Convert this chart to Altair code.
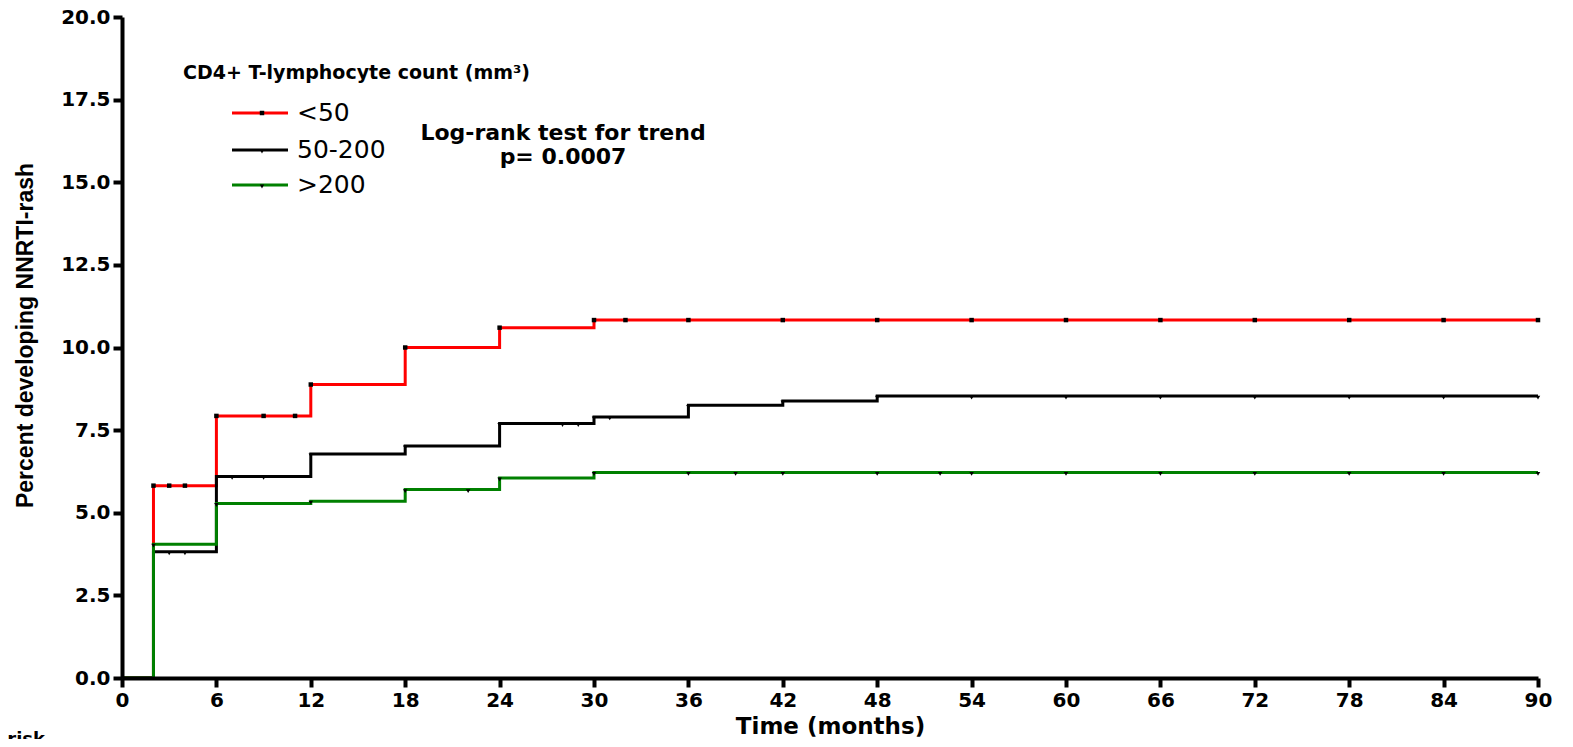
import altair as alt
import pandas as pd

# ---- data ----
groups = ["<50", "50-200", ">200"]
colors = ["#ff0000", "#000000", "#008000"]

step_times = [0, 2, 6, 12, 18, 24, 30, 36, 42, 48, 90]
red_vals = [0, 5.82, 7.93, 8.88, 10.0, 10.6, 10.83, 10.83, 10.83, 10.83, 10.83]
black_vals = [0, 3.82, 6.1, 6.78, 7.02, 7.7, 7.9, 8.25, 8.38, 8.53, 8.53]
green_vals = [0, 4.05, 5.28, 5.35, 5.7, 6.05, 6.22, 6.22, 6.22, 6.22, 6.22]

red_censor = [2, 3, 4, 6, 9, 11, 12, 18, 24, 30, 32, 36, 42, 48, 54, 60, 66, 72, 78, 84, 90]
black_censor = [3, 4, 7, 9, 12, 18, 24, 28, 29, 30, 31, 36, 42, 48, 54, 60, 66, 72, 78, 84, 90]
green_censor = [2, 6, 12, 18, 22, 24, 30, 36, 39, 42, 48, 52, 54, 60, 66, 72, 78, 84, 90]

x_ticks = list(range(0, 91, 6))
y_ticks = [0, 2.5, 5, 7.5, 10, 12.5, 15, 17.5, 20]

FONT = "DejaVu Sans"


def step_value(times, vals, t):
    v = vals[0]
    for tt, vv in zip(times, vals):
        if tt <= t:
            v = vv
    return v


series = [
    (groups[0], red_vals, red_censor, colors[0], "square"),
    (groups[1], black_vals, black_censor, colors[1], "triangle-down"),
    (groups[2], green_vals, green_censor, colors[2], "triangle-down"),
]

x_enc = alt.X(
    "t:Q",
    scale=alt.Scale(domain=[0, 90], nice=False, zero=True),
    axis=alt.Axis(values=x_ticks, title="Time (months)", format="d",
                  titleX=708, titleY=48, titleBaseline="middle",
                  titleFontSize=23, labelPadding=3, labelFlush=False, zindex=2),
)
y_enc = alt.Y(
    "pct:Q",
    scale=alt.Scale(domain=[0, 20], nice=False),
    axis=alt.Axis(values=y_ticks, title="Percent developing NNRTI-rash", format=".1f",
                  titleX=-97, titleY=318, titleAngle=-90, titleAlign="center",
                  titleBaseline="middle", titleFont="Liberation Sans",
                  titleFontSize=23, labelPadding=3, labelFlush=False, zindex=2),
)

layers = []
for name, vals, cens, col, shape in series:
    df = pd.DataFrame({"t": step_times, "pct": vals, "group": name})
    layers.append(
        alt.Chart(df).mark_line(interpolate="step-after", strokeWidth=3, color=col)
        .encode(x=x_enc, y=y_enc)
    )

for name, vals, cens, col, shape in series:
    cdf = pd.DataFrame({"t": cens, "pct": [step_value(step_times, vals, c) for c in cens]})
    layers.append(
        alt.Chart(cdf).mark_point(shape=shape, filled=True, color="black", size=20,
                                  opacity=1, yOffset=(0 if shape == "square" else 1.5))
        .encode(x=x_enc, y=y_enc)
    )

# ---- legend (custom, positioned in the plot) ----
one = pd.DataFrame({"a": [0]})
leg_y = [96, 133, 168]
layers.append(
    alt.Chart(one).mark_text(align="left", baseline="middle", font=FONT, fontWeight="bold",
                             fontSize=19, color="black")
    .encode(x=alt.value(61), y=alt.value(56), text=alt.value("CD4+ T-lymphocyte count (mm³)"))
)
for (name, vals, cens, col, shape), yy in zip(series, leg_y):
    layers.append(
        alt.Chart(one).mark_rule(strokeWidth=3, color=col)
        .encode(x=alt.value(110), x2=alt.value(166), y=alt.value(yy))
    )
    layers.append(
        alt.Chart(one).mark_point(shape=shape, filled=True, color="black", size=20, opacity=1)
        .encode(x=alt.value(140), y=alt.value(yy + (0 if shape == "square" else 1.5)))
    )
    layers.append(
        alt.Chart(one).mark_text(align="left", baseline="middle", font=FONT, fontSize=25,
                                 color="black")
        .encode(x=alt.value(175), y=alt.value(yy), text=alt.value(name))
    )

# ---- log-rank annotation ----
for txt, yy in [("Log-rank test for trend", 116), ("p= 0.0007", 140)]:
    layers.append(
        alt.Chart(one).mark_text(align="center", baseline="middle", font=FONT,
                                 fontWeight="bold", fontSize=22, color="black")
        .encode(x=alt.value(441), y=alt.value(yy), text=alt.value(txt))
    )

# ---- cut-off "at risk" label at the very bottom ----
layers.append(
    alt.Chart(one).mark_text(align="right", baseline="top", font=FONT,
                             fontWeight="bold", fontSize=18, color="black")
    .encode(x=alt.value(-77), y=alt.value(714), text=alt.value("Number at risk"))
)

chart = (
    alt.layer(*layers)
    .properties(
        width=1416,
        height=661,
        autosize=alt.AutoSizeParams(type="none"),
        padding={"left": 114, "top": 9, "right": 27, "bottom": 61},
    )
    .configure_view(stroke=None)
    .configure_axis(
        domainColor="black", domainWidth=4, tickColor="black", tickWidth=4, tickSize=9,
        grid=False, labelFont=FONT, labelFontWeight="bold", labelFontSize=20,
        labelColor="black", titleFont=FONT, titleFontWeight="bold", titleColor="black",
    )
)

chart.save("out.html", embed_options={"renderer": "svg", "actions": False})
